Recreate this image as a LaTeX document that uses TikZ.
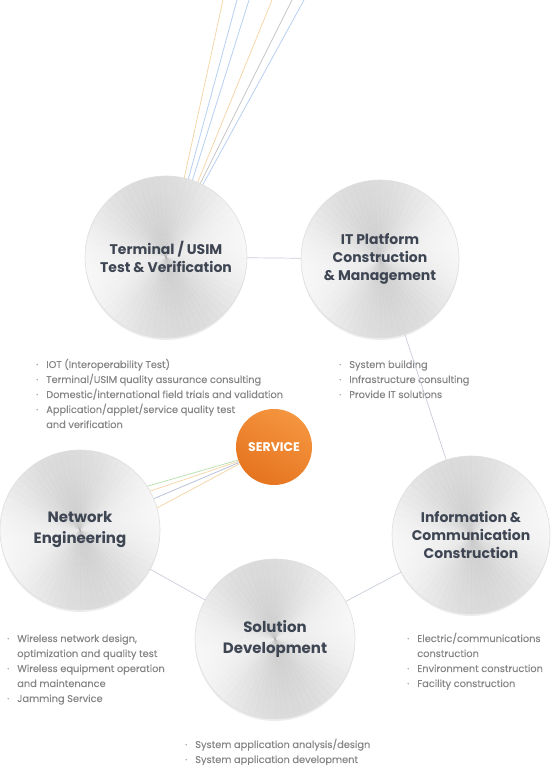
\documentclass[tikz,border=0pt]{standalone}
\usepackage{fontspec}
\setmainfont{Poppins}
\newfontfamily\listfont[FakeBold=0.35]{Poppins}
\usepackage{xcolor}
\usepackage{tikz}
\usetikzlibrary{shadows}

\definecolor{titlecol}{HTML}{3E4553}
\definecolor{listcol}{HTML}{868686}
\definecolor{linkcol}{HTML}{C8CDD8}
\definecolor{svclight}{HTML}{F5953F}
\definecolor{svcdark}{HTML}{E6741F}
\definecolor{rayorange}{HTML}{F5D6AA}
\definecolor{rayblue}{HTML}{B6CFF2}
\definecolor{raygray}{HTML}{C6C6C6}
\definecolor{raygreen}{HTML}{BCE2B2}
\definecolor{rayslate}{HTML}{B9C0D6}

\newcommand{\itm}{\textcolor{listcol!70}{·}}

\begin{document}
\begin{tikzpicture}[
        x=1pt, y=1pt,
        disc/.style={
            circle,
            minimum size=#1,
            inner sep=0pt,
            draw=gray!25,
            line width=0.6pt,
            inner color=gray!17,
            outer color=gray!6,
            align=center,
            text=titlecol,
            font=\bfseries\fontsize{14}{18}\selectfont,
            drop shadow={opacity=0.14, shadow xshift=0pt, shadow yshift=-2pt},
            path picture={
                \foreach \a in {0,5,...,355} {
                    \pgfmathsetmacro\o{0.11*(1+cos(2*(\a-100)))/2}
                    \fill[black, opacity=\o] (path picture bounding box.center)
                        -- ++(\a:95pt) arc[start angle=\a, end angle=\a+5, radius=95pt] -- cycle;
                }
            }
        },
        bigtitle/.style={font=\bfseries\fontsize{15}{21}\selectfont},
        svc/.style={
            circle,
            minimum size=76pt,
            inner sep=0pt,
            left color=svclight,
            right color=svcdark,
            shading angle=-30,
            text=white,
            font=\bfseries\fontsize{12.5}{15}\selectfont
        },
        list/.style={
            anchor=base west,
            inner sep=0pt,
            text=listcol,
            font=\listfont\fontsize{9.8}{15}\selectfont
        },
        link/.style={draw=linkcol, line width=0.7pt},
        ray/.style={line width=0.8pt}
    ]
        \useasboundingbox (0,0) rectangle (551,765);

        % Cercles des domaines
        \node[disc=162pt] (term) at (166,508) {Terminal / USIM\\Test \& Verification};
        \node[disc=158pt] (itp) at (380,506) {IT Platform\\Construction\\\& Management};
        \node[disc=158pt] (info) at (471,230) {Information \&\\Communication\\Construction};
        \node[disc=160pt, bigtitle] (sol) at (275,126) {Solution\\Development};
        \node[disc=160pt, bigtitle] (net) at (80,235) {Network\\Engineering};
        \node[svc] (svc) at (274,318) {SERVICE};

        % Listes de prestations
        \node[list] (termlist) at (36,397) {\begin{tabular}[t]{@{}l@{\hspace{8pt}}l@{}}
            \itm & IOT (Interoperability Test)\\
            \itm & Terminal/USIM quality assurance consulting\\
            \itm & Domestic/international field trials and validation\\
            \itm & Application/applet/service quality test\\
                 & and verification
        \end{tabular}};
        \node[list] (itplist) at (339,397) {\begin{tabular}[t]{@{}l@{\hspace{8pt}}l@{}}
            \itm & System building\\
            \itm & Infrastructure consulting\\
            \itm & Provide IT solutions
        \end{tabular}};
        \node[list] (netlist) at (7,123) {\begin{tabular}[t]{@{}l@{\hspace{8pt}}l@{}}
            \itm & Wireless network design,\\
                 & optimization and quality test\\
            \itm & Wireless equipment operation\\
                 & and maintenance\\
            \itm & Jamming Service
        \end{tabular}};
        \node[list] (infolist) at (407,123) {\begin{tabular}[t]{@{}l@{\hspace{8pt}}l@{}}
            \itm & Electric/communications\\
                 & construction\\
            \itm & Environment construction\\
            \itm & Facility construction
        \end{tabular}};
        \node[list] (sollist) at (185,17) {\begin{tabular}[t]{@{}l@{\hspace{8pt}}l@{}}
            \itm & System application analysis/design\\
            \itm & System application development
        \end{tabular}};

        % Liaisons entre les cercles
        \draw[link] (term) -- (itp);
        \draw[link] (itp) -- (info);
        \draw[link] (info) -- (sol);
        \draw[link] (sol) -- (net);

        % Faisceau vers le haut
        \foreach \x/\a/\c [count=\i] in {223/77/rayorange, 237/74/rayblue, 249/71/rayblue,
                                         272/67/rayorange, 292/65/raygray, 304/63/rayblue} {
            \coordinate (top\i) at (\x,765);
            \draw[ray, \c] (term.\a) -- (top\i);
        }

        % Faisceau SERVICE -> Network
        \foreach \s/\a/\c in {200/33/raygreen, 202/29/rayorange, 204/23/rayslate, 206/16/rayorange}
            \draw[ray, \c] (svc.\s) -- (net.\a);
    \end{tikzpicture}
\end{document}
